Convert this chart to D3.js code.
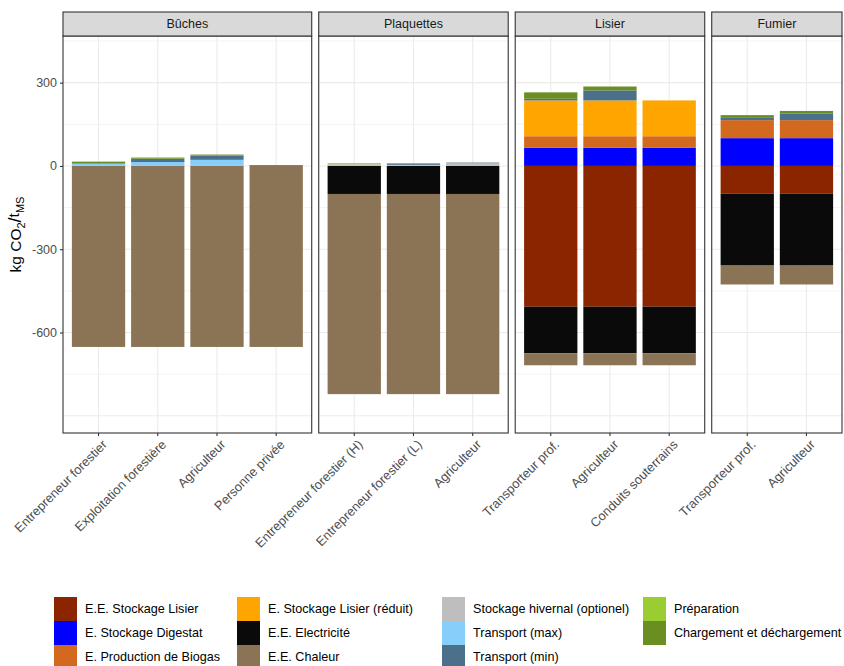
<!DOCTYPE html>
<html>
<head>
<meta charset="utf-8">
<script src="https://cdn.jsdelivr.net/npm/d3@7"></script>
<style>
  body { margin: 0; background: #fff; }
  svg { display: block; font-family: "Liberation Sans", Arial, sans-serif; }
</style>
</head>
<body>
<svg id="chart" width="844" height="666"></svg>
<script>
// ---------- DATA ----------
const facets = ["Bûches", "Plaquettes", "Lisier", "Fumier"];
const bucheCats = ["Entrepreneur forestier", "Exploitation forestière", "Agriculteur", "Personne privée"];
const plaquetteCats = ["Entrepreneur forestier (H)", "Entrepreneur forestier (L)", "Agriculteur"];
const lisierCats = ["Transporteur prof.", "Agriculteur", "Conduits souterrains"];
const fumierCats = ["Transporteur prof.", "Agriculteur"];

const seriesNames = [
  "E.E. Stockage Lisier", "E. Stockage Digestat", "E. Production de Biogas",
  "E. Stockage Lisier (réduit)", "E.E. Electricité", "E.E. Chaleur",
  "Stockage hivernal (optionel)", "Transport (max)", "Transport (min)",
  "Préparation", "Chargement et déchargement"
];
const seriesColors = [
  "#8B2500", "#0000FF", "#D2691E",
  "#FFA500", "#0A0A0A", "#8B7355",
  "#BEBEBE", "#87CEFA", "#4A708B",
  "#9ACD32", "#6B8E23"
];

// values per bar, order: Bûches(4), Plaquettes(3), Lisier(3), Fumier(2)
const eeStockageLisier  = [0, 0, 0, 0,   0, 0, 0,         -507, -507, -507,  -100, -100];
const eStockageDigestat = [0, 0, 0, 0,   0, 0, 0,           66,   66,   66,   100,  100];
const eProdBiogas       = [0, 0, 0, 0,   0, 0, 0,           41,   41,   41,    65,   65];
const eStockageReduit   = [0, 0, 0, 0,   0, 0, 0,          129,  129,  129,     0,    0];
const eeElectricite     = [0, 0, 0, 0,   -101, -101, -101, -168, -168, -168,  -259, -259];
const eeChaleur         = [-652, -652, -652, -652,  -721, -721, -721,  -43, -43, -43,  -68, -68];
const stockageHivernal  = [0, 0, 0, 0,   6, 4, 7,            0,    0,    0,     0,    0];
const transportMax      = [7, 14, 22, 0, 0, 0, 3,            0,    0,    0,     0,    0];
const transportMin      = [2.5, 11, 14, 3, 0, 5, 2,          6,   36,    0,     8,   23];
const preparation       = [1, 1, 1, 0,   4, 0, 0,            0,    0,    0,     0,    0];
const chargement        = [5, 4, 4, 0,   0, 0, 0,           23,   14,    0,    10,   10];

const yTickValues = [300, 0, -300, -600];
const yGridValues = [450, 300, 150, 0, -150, -300, -450, -600, -750, -900];

// ---------- BUILD ----------
const seriesValues = [eeStockageLisier, eStockageDigestat, eProdBiogas, eStockageReduit,
  eeElectricite, eeChaleur, stockageHivernal, transportMax, transportMin, preparation, chargement];
const facetCats = [bucheCats, plaquetteCats, lisierCats, fumierCats];

const svg = d3.select("#chart");
const panelTop = 36, panelBottom = 433, stripTop = 12;
const plotLeft = 63, plotRight = 842, gap = 7;
const totalUnits = d3.sum(facetCats, c => c.length + 0.2);
const unit = (plotRight - plotLeft - gap * (facets.length - 1)) / totalUnits;

const y = d3.scaleLinear().domain([-962, 468]).range([panelBottom, panelTop]);

let idx = 0;
let xStart = plotLeft;
facets.forEach((facet, fi) => {
  const cats = facetCats[fi];
  const w = (cats.length + 0.2) * unit;
  const x0 = xStart, x1 = xStart + w;
  const x = d3.scaleBand().domain(cats.map((c, i) => i)).range([x0, x1])
    .paddingInner(0.1).paddingOuter(0.15);
  const g = svg.append("g");

  g.append("rect").attr("x", x0).attr("y", panelTop).attr("width", w)
    .attr("height", panelBottom - panelTop).attr("fill", "#fff");

  yGridValues.forEach(v => {
    const major = yTickValues.includes(v) || v === -900;
    g.append("line").attr("x1", x0).attr("x2", x1)
      .attr("y1", y(v)).attr("y2", y(v))
      .attr("stroke", "#ebebeb").attr("stroke-width", major ? 1.1 : 0.6);
  });
  cats.forEach((c, i) => {
    const cx = x(i) + x.bandwidth() / 2;
    g.append("line").attr("x1", cx).attr("x2", cx)
      .attr("y1", panelTop).attr("y2", panelBottom)
      .attr("stroke", "#ebebeb").attr("stroke-width", 1.1);
  });

  cats.forEach((c, i) => {
    const bi = idx + i;
    let pos = 0, neg = 0;
    seriesValues.forEach((arr, si) => {
      const v = arr[bi];
      if (!v) return;
      let a, b;
      if (v > 0) { a = pos; b = pos + v; pos = b; }
      else { a = neg; b = neg + v; neg = b; }
      g.append("rect")
        .attr("x", x(i)).attr("width", x.bandwidth())
        .attr("y", y(Math.max(a, b)))
        .attr("height", Math.abs(y(a) - y(b)))
        .attr("fill", seriesColors[si]);
    });
  });

  g.append("rect").attr("x", x0).attr("y", panelTop).attr("width", w)
    .attr("height", panelBottom - panelTop).attr("fill", "none")
    .attr("stroke", "#333333").attr("stroke-width", 1.1);

  g.append("rect").attr("x", x0).attr("y", stripTop).attr("width", w)
    .attr("height", panelTop - stripTop).attr("fill", "#d9d9d9")
    .attr("stroke", "#333333").attr("stroke-width", 1.1);
  g.append("text").attr("x", (x0 + x1) / 2).attr("y", (stripTop + panelTop) / 2)
    .attr("dy", "0.35em").attr("text-anchor", "middle")
    .attr("font-size", 12.5).attr("fill", "#1a1a1a").text(facet);

  const xa = d3.axisBottom(x).tickSize(3).tickFormat(i => cats[i]);
  const ax = g.append("g").attr("transform", `translate(0,${panelBottom})`).call(xa);
  ax.select(".domain").remove();
  ax.selectAll(".tick line").attr("stroke", "#333333").attr("stroke-width", 1.1);
  ax.selectAll(".tick text")
    .attr("fill", "#4d4d4d").attr("font-size", 12.8)
    .attr("font-family", "Liberation Sans, Arial, sans-serif")
    .attr("text-anchor", "end")
    .attr("x", 0).attr("y", 0).attr("dy", "0.7em")
    .attr("transform", "translate(3,6) rotate(-45)");

  idx += cats.length;
  xStart = x1 + gap;
});

const ya = d3.axisLeft(y).tickValues(yTickValues).tickSize(3).tickFormat(d3.format("d"));
const yax = svg.append("g").attr("transform", `translate(${plotLeft},0)`).call(ya);
yax.select(".domain").remove();
yax.selectAll(".tick line").attr("stroke", "#333333").attr("stroke-width", 1.1);
yax.selectAll(".tick text").attr("fill", "#4d4d4d").attr("font-size", 12.5)
  .attr("font-family", "Liberation Sans, Arial, sans-serif")
  .text(d => d < 0 ? "-" + Math.abs(d) : d);

const yt = svg.append("text")
  .attr("transform", `translate(21,${(panelTop + panelBottom) / 2}) rotate(-90)`)
  .attr("text-anchor", "middle").attr("font-size", 15.5).attr("fill", "#000");
yt.append("tspan").text("kg CO");
yt.append("tspan").attr("font-size", 11).attr("dy", 4).text("2");
yt.append("tspan").attr("dy", -4).attr("font-size", 18).text("/");
yt.append("tspan").attr("dy", -2).text("t");
yt.append("tspan").attr("font-size", 11).attr("dy", 5).text("MS");

const legX = [54, 237, 442, 643];
const legY0 = 597, keyH = 24;
seriesNames.forEach((name, i) => {
  const col = Math.floor(i / 3), row = i % 3;
  const lg = svg.append("g").attr("transform", `translate(${legX[col]},${legY0 + row * keyH})`);
  lg.append("rect").attr("width", 23).attr("height", keyH).attr("fill", seriesColors[i]);
  lg.append("text").attr("x", 31).attr("y", keyH / 2).attr("dy", "0.35em")
    .attr("font-size", 12.6).attr("fill", "#000").text(name);
});
</script>
</body>
</html>
